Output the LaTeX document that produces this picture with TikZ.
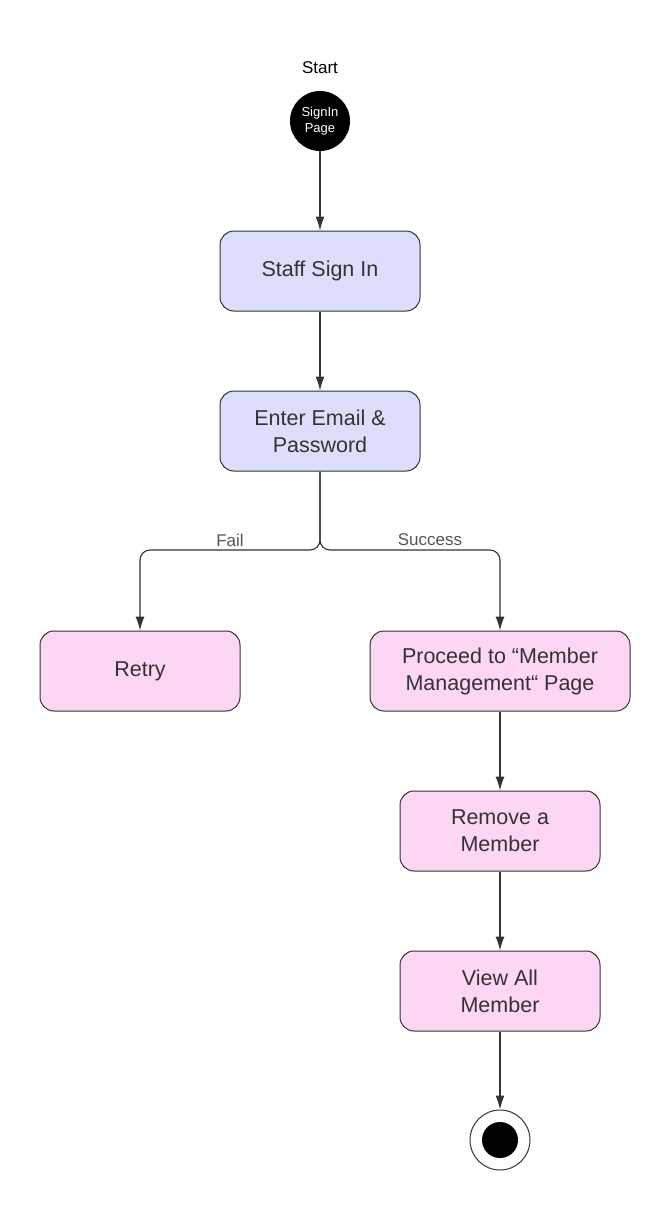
\documentclass[tikz,border=0pt]{standalone}
\usepackage{fontspec}
\setmainfont{Liberation Sans}
\usepackage{xcolor}
\usepackage{tikz}
\usetikzlibrary{positioning,arrows.meta}

\definecolor{boxblue}{HTML}{DDDEFB}
\definecolor{boxpink}{HTML}{FDD6F3}
\definecolor{edge}{HTML}{333333}
\definecolor{labelgray}{HTML}{555555}

\tikzset{
  box/.style={draw=edge, rounded corners=14pt, minimum width=200pt, minimum height=80pt,
    align=center, text=edge, font=\fontsize{21.5}{27}\selectfont, line width=1pt},
  bluebox/.style={box, fill=boxblue},
  pinkbox/.style={box, fill=boxpink},
  flow/.style={-{Latex[length=14pt,width=9pt]}, draw=edge, line width=1.1pt},
  branch/.style={flow, rounded corners=10pt},
  guard/.style={text=labelgray, font=\fontsize{17}{20}\selectfont}
}

\begin{document}
\begin{tikzpicture}[x=1pt, y=-1pt]
\useasboundingbox (0,0) rectangle (670,1211);

% start state
\node (startlbl) at (320,68) {\fontsize{17}{20}\selectfont Start};
\node (start) at (320,121) [circle, fill=black, minimum size=60pt, inner sep=0pt,
  text=white, align=center, font=\fontsize{13}{16}\selectfont] {SignIn\\Page};

% sign in
\node (signin) at (320,271) [bluebox] {Staff Sign In};
\node (email) at (320,431) [bluebox] {Enter Email \&\\Password};

% branches
\node (retry) at (140,671) [pinkbox] {Retry};
\node (proceed) at (500,671) [pinkbox, minimum width=260pt] {Proceed to “Member\\Management“ Page};
\node (remove) at (500,831) [pinkbox] {Remove a\\Member};
\node (viewall) at (500,991) [pinkbox] {View All\\Member};

% final state
\node (final) at (500,1140) [circle, draw=edge, line width=1pt, fill=white, minimum size=60pt] {};
\node (finaldot) at (500,1140) [circle, fill=black, minimum size=36pt, inner sep=0pt] {};

\coordinate (split) at (320,550);

\draw[flow] (start) -- (signin);
\draw[flow] (signin) -- (email);
\draw[branch] (email.south) -- (split) -- (retry.north |- split) -- (retry.north);
\draw[branch] (email.south) -- (split) -- (proceed.north |- split) -- (proceed.north);
\node (fail) at (230,540) [guard] {Fail};
\node (success) at (430,540) [guard] {Success};
\draw[flow] (proceed) -- (remove);
\draw[flow] (remove) -- (viewall);
\draw[flow] (viewall) -- (final);
\end{tikzpicture}
\end{document}
